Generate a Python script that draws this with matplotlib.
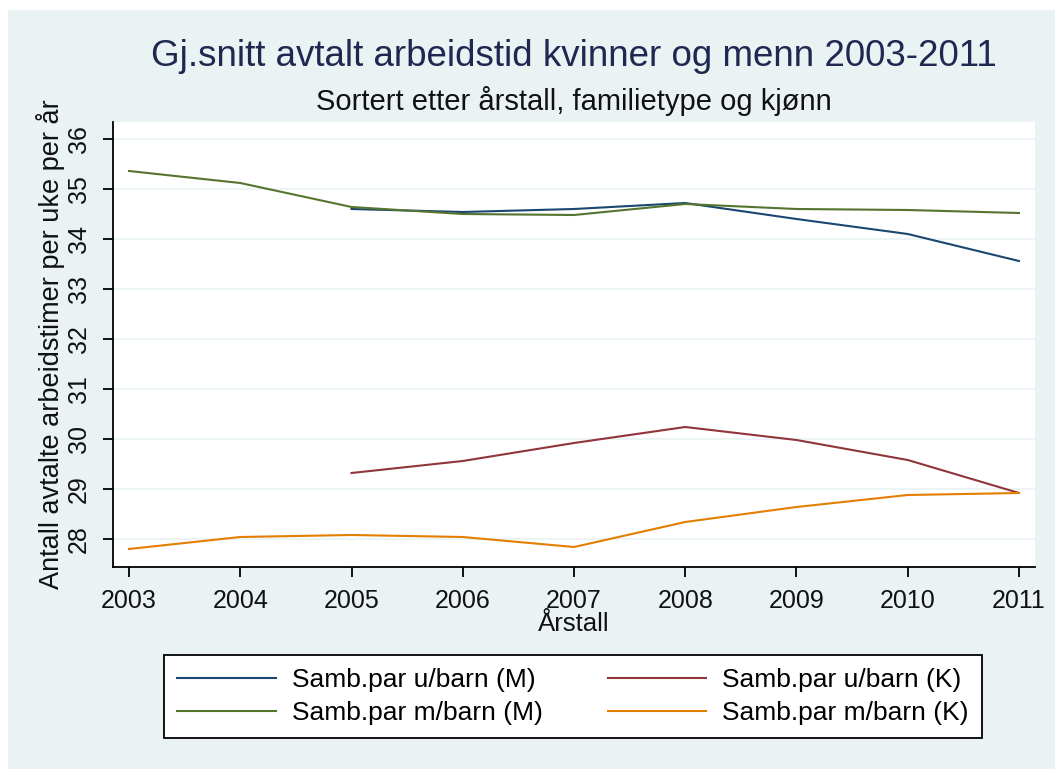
import matplotlib
matplotlib.use("Agg")
import matplotlib.pyplot as plt
from matplotlib.patches import Rectangle

plt.rcParams['font.family'] = ['Liberation Sans', 'DejaVu Sans']

# data
years = [2003, 2004, 2005, 2006, 2007, 2008, 2009, 2010, 2011]
years_u = [2005, 2006, 2007, 2008, 2009, 2010, 2011]

m_ubarn = [34.60, 34.54, 34.60, 34.72, 34.40, 34.10, 33.56]
k_ubarn = [29.32, 29.56, 29.92, 30.24, 29.98, 29.58, 28.92]
m_mbarn = [35.36, 35.12, 34.64, 34.50, 34.48, 34.70, 34.60, 34.58, 34.52]
k_mbarn = [27.80, 28.04, 28.08, 28.04, 27.84, 28.34, 28.64, 28.88, 28.92]

y_ticks = [28, 29, 30, 31, 32, 33, 34, 35, 36]

bg = '#eaf2f3'
W, H = 1055, 769

fig = plt.figure(figsize=(W / 100, H / 100), dpi=100, facecolor='white')
# the light panel (white margin on the top and left)
fig.patches.append(Rectangle((8 / W, 0), 1 - 8 / W, 1 - 10 / H,
                             transform=fig.transFigure, facecolor=bg,
                             edgecolor='none', zorder=-10))

ax = fig.add_axes([113 / W, 1 - 567 / H, (1035 - 113) / W, (567 - 122) / H])
ax.set_facecolor('white')

l1, = ax.plot(years_u, m_ubarn, color='#1a476f', lw=1.5)
l2, = ax.plot(years_u, k_ubarn, color='#90353b', lw=1.5)
l3, = ax.plot(years, m_mbarn, color='#55752f', lw=1.5)
l4, = ax.plot(years, k_mbarn, color='#e37e00', lw=1.5)

ax.set_xlim(2002.856, 2011.144)
ax.set_ylim(27.44, 36.34)
ax.set_xticks(years)
ax.set_yticks(y_ticks)
ax.set_yticklabels([str(v) for v in y_ticks], rotation=90, va='center')
ax.tick_params(axis='both', labelsize=18, length=7, width=1.3,
               color='black', labelcolor='#111111', pad=9)
ax.grid(axis='y', color=bg, lw=1.2)
ax.set_axisbelow(True)
for side in ['top', 'right']:
    ax.spines[side].set_visible(False)
for side in ['left', 'bottom']:
    ax.spines[side].set_linewidth(1.3)
    ax.spines[side].set_color('black')

ax.set_xlabel('Årstall', fontsize=18.5, labelpad=-1, color='#111111')
ax.set_ylabel('Antall avtalte arbeidstimer per uke per år', fontsize=19.5,
              labelpad=1, color='#111111')

fig.text(574 / W, 1 - 56 / H, 'Gj.snitt avtalt arbeidstid kvinner og menn 2003-2011',
         ha='center', va='center', fontsize=26.5, color='#1e2850')
fig.text(574 / W, 1 - 101 / H, 'Sortert etter årstall, familietype og kjønn',
         ha='center', va='center', fontsize=21, color='#111111')

leg = fig.legend([l1, l3, l2, l4],
                 ['Samb.par u/barn (M)', 'Samb.par m/barn (M)',
                  'Samb.par u/barn (K)', 'Samb.par m/barn (K)'],
                 ncol=2, loc='center', mode='expand',
                 bbox_to_anchor=(164 / W, 1 - 740 / H, (982 - 164) / W, (740 - 653) / H),
                 bbox_transform=fig.transFigure, fontsize=19, frameon=True,
                 fancybox=False, edgecolor='black', handlelength=3.75,
                 handletextpad=0.6, borderaxespad=0, borderpad=0.5,
                 labelspacing=0.35, columnspacing=1.0)
leg.get_frame().set_linewidth(1.3)
leg.get_frame().set_facecolor('white')
leg.get_frame().set_alpha(1)

fig.savefig('out.png', dpi=100, facecolor='white')
